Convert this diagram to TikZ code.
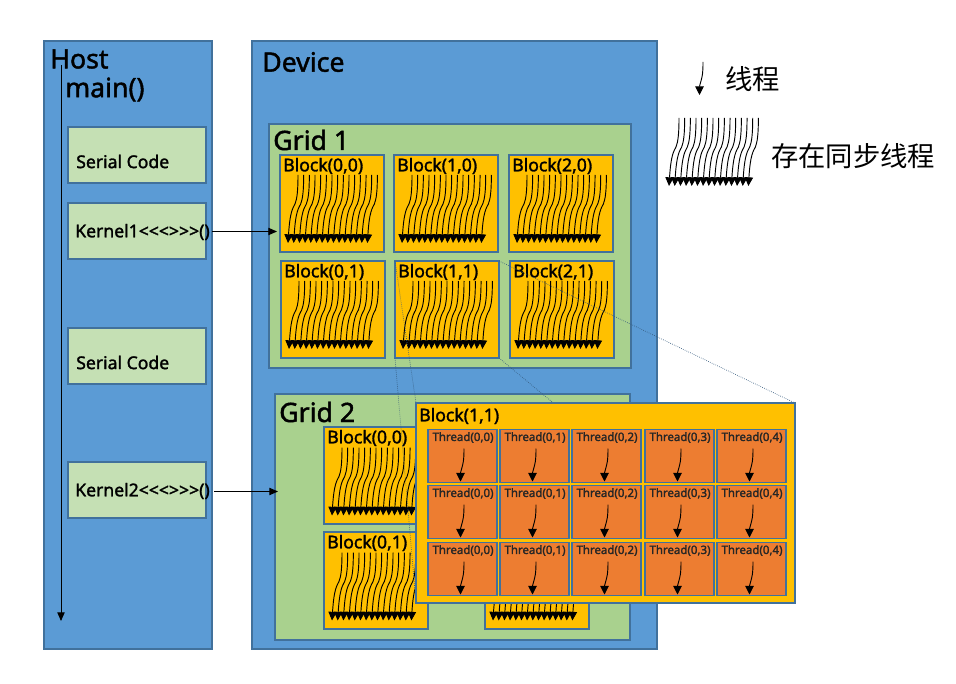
\documentclass[tikz,border=0pt]{standalone}
\usepackage{fontspec}
\setmainfont[FakeBold=1.6]{Noto Sans}
\newfontfamily\plainsans[FakeBold=2]{Noto Sans}
\newfontfamily\cjk{Noto Sans CJK SC}
\usetikzlibrary{arrows.meta}
\tikzset{
  box/.style={draw=boxline, line width=1.4pt, anchor=north west, inner sep=0pt, outer sep=0pt},
  sized/.style 2 args={minimum width=#1*0.75pt, minimum height=#2*0.75pt},
  hostbox/.style={box, fill=hostblue},
  gridbox/.style={box, fill=gridgreen},
  codebox/.style={box, fill=codegreen, sized={138}{56}},
  blockbox/.style={box, fill=blockyellow, sized={104}{97}},
  threadbox/.style={box, fill=threadorange, sized={69}{53}},
  bigtext/.style={anchor=west, inner sep=0pt, font=\bfseries\fontsize{20}{20}\selectfont},
  blocktext/.style={anchor=west, inner sep=0pt, font=\bfseries\fontsize{13.2}{14}\selectfont},
  codetext/.style={anchor=west, inner sep=0pt, font=\bfseries\fontsize{13.2}{14}\selectfont},
  threadtext/.style={inner sep=0pt, font=\plainsans\bfseries\fontsize{8.6}{9}\selectfont, text=black!85},
  legendtext/.style={anchor=west, inner sep=0pt, font=\cjk\fontsize{20.5}{21}\selectfont},
  flow/.style={-{Triangle[length=6.5pt,width=5.5pt]}, line width=0.7pt},
  zoomline/.style={draw=boxline!80!black, line width=0.5pt, densely dotted},
  threadline/.pic={
    \draw[-{Triangle[length=6.5pt,width=6.5pt]}, line width=0.7pt]
      (0,0) .. controls (0,10) and (-0.5,13) .. (-1.5,17)
      .. controls (-2.5,21) and (-3.5,24) .. (-3.5,33);
  },
  syncfan/.pic={
    \foreach \i in {0,...,14} {
      \draw[-{Triangle[length=6.5pt,width=6.2pt]}, line width=0.7pt, xshift=\i*5.67*0.75pt]
        (0,0) .. controls (0,16) and (-1,24) .. (-3,29)
        .. controls (-5,33) and (-8,36) .. (-10,68);
    }
  }
}
\definecolor{hostblue}{HTML}{5B9BD5}
\definecolor{boxline}{HTML}{41719C}
\definecolor{gridgreen}{HTML}{A9D18E}
\definecolor{codegreen}{HTML}{C5E0B4}
\definecolor{blockyellow}{HTML}{FFC000}
\definecolor{threadorange}{HTML}{ED7D31}
\begin{document}
\begin{tikzpicture}[x=0.75pt, y=-0.75pt]
  \useasboundingbox (0,0) rectangle (956,684);
  % host side
  \node[hostbox, sized={168}{608}] (host) at (44,41) {};
  \node[bigtext] (hostlabel) at (50,59) {Host};
  \node[bigtext] (mainlabel) at (65,89.5) {main()};
  \coordinate (mainstart) at (61,65);
  \coordinate (mainend) at (61,621);
  \draw[flow] (mainstart) -- (mainend);
  \node[codebox] (serial1) at (68,127) {};
  \node[codetext] (serial1t) at (76,161.5) {Serial Code};
  \node[codebox] (kernel1) at (68,203) {};
  \node[codetext] (kernel1t) at (75,232) {Kernel1<{}<{}<{}>{}>{}>()};
  \node[codebox] (serial2) at (68,328) {};
  \node[codetext] (serial2t) at (76,362.5) {Serial Code};
  \node[codebox] (kernel2) at (68,462) {};
  \node[codetext] (kernel2t) at (75,491) {Kernel2<{}<{}<{}>{}>{}>()};
  % device side
  \node[hostbox, sized={405}{608}] (device) at (252,41) {};
  \node[bigtext] (devicelabel) at (262,62) {Device};
  \node[gridbox, sized={362}{244}] (grid1) at (269,124) {};
  \node[bigtext] (grid1t) at (273,140) {Grid 1};
  \foreach \bx/\by/\px/\py in {0/0/280/155, 1/0/394/155, 2/0/509/155,
                               0/1/281/261, 1/1/395/261, 2/1/510/261} {
    \node[blockbox] (a\bx\by) at (\px,\py) {};
    \node[blocktext] (a\bx\by t) at (\px+3,\py+11) {Block(\bx,\by)};
    \pic at (\px+18,\py+20) {syncfan};
  }
  \node[gridbox, sized={355}{246}] (grid2) at (275,394) {};
  \node[bigtext] (grid2t) at (279,412) {Grid 2};
  \foreach \bx/\by/\py in {0/0/427, 0/1/532} {
    \node[blockbox] (b\bx\by) at (324,\py) {};
    \node[blocktext] (b\bx\by t) at (327,\py+11) {Block(\bx,\by)};
    \pic at (342,\py+20.5) {syncfan};
  }
  \node[blockbox] (b21) at (485,532) {};
  \pic at (503,552.5) {syncfan};
  \coordinate (grid1in) at (277,231.5);
  \coordinate (grid2in) at (278,491.5);
  \draw[flow, shorten <=4.5pt] (kernel1.east |- grid1in) -- (grid1in);
  \draw[flow, shorten <=6pt] (kernel2.east |- grid2in) -- (grid2in);
  % blow up of block (1,1)
  \coordinate (zoomnw) at (416,403);
  \coordinate (zoomne) at (795,403);
  \coordinate (zoomsw) at (416,603);
  \coordinate (zoomse) at (795,603);
  \draw[zoomline] (a11.north west) -- (zoomnw);
  \draw[zoomline] (a11.north east) -- (zoomne);
  \draw[zoomline] (a11.south west) -- (zoomsw);
  \draw[zoomline] (a11.south east) -- (zoomse);
  \node[box, fill=blockyellow, sized={379}{200}] (zoomblock) at (zoomnw) {};
  \node[blocktext] (zoomt) at (419,416) {Block(1,1)};
  \foreach \r/\py in {0/429.5, 1/485.5, 2/542.5} {
    \foreach \c/\px in {0/428, 1/500, 2/572, 3/645, 4/717} {
      \node[threadbox] (t\r\c) at (\px,\py) {};
      \node[threadtext] (t\r\c t) at (\px+35,\py+8) {Thread(0,\c)};
      \pic at (\px+36,\py+19) {threadline};
    }
  }
  % legend
  \pic at (703,62) {threadline};
  \node[legendtext] (legend1) at (725,79) {线程};
  \pic at (679,118) {syncfan};
  \node[legendtext] (legend2) at (771,156) {存在同步线程};
\end{tikzpicture}
\end{document}
